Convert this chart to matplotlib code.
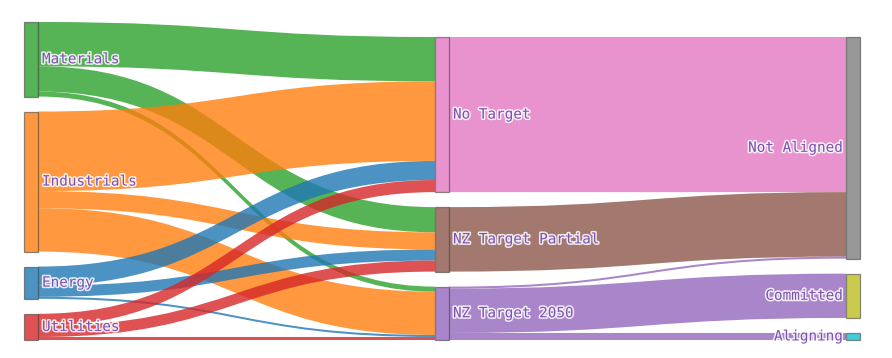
import matplotlib.pyplot as plt
from matplotlib.path import Path
from matplotlib.patches import PathPatch, Rectangle
from matplotlib.colors import to_rgba
import matplotlib.patheffects as pe

# nodes
labels = ['Materials', 'Industrials', 'Energy', 'Utilities',
          'No Target', 'NZ Target Partial', 'NZ Target 2050',
          'Not Aligned', 'Committed', 'Aligning']
columns = [0, 0, 0, 0, 1, 1, 1, 2, 2, 2]
node_colors = ['#2ca02c', '#ff7f0e', '#1f77b4', '#d62728', '#e377c2',
               '#8c564b', '#9467bd', '#7f7f7f', '#bcbd22', '#17becf']

# links
source = [0, 0, 0, 1, 1, 1, 2, 2, 2, 3, 3, 3, 4, 5, 6, 6, 6]
target = [4, 5, 6, 4, 5, 6, 4, 5, 6, 4, 5, 6, 7, 7, 7, 8, 9]
value = [44, 25, 5, 79, 17, 43, 19, 11, 2, 12, 11, 3, 154, 64, 2, 44, 7]

fig = plt.figure(figsize=(8.92, 3.58), dpi=100)
ax = fig.add_axes([0, 0, 1, 1])
ax.set_xlim(0, 892)
ax.set_ylim(358, 0)
ax.axis('off')

col_x = [24, 435, 846]
node_w = 14
pad = 15
y_top, y_bottom = 22, 340

n = len(labels)
inflow = [0] * n
outflow = [0] * n
for s, t, v in zip(source, target, value):
    outflow[s] += v
    inflow[t] += v
node_val = [max(a, b) for a, b in zip(inflow, outflow)]

# scale so the fullest column fills the height
scale = None
for c in range(3):
    idx = [i for i in range(n) if columns[i] == c]
    sc = (y_bottom - y_top - pad * (len(idx) - 1)) / sum(node_val[i] for i in idx)
    scale = sc if scale is None else min(scale, sc)

# stack each column from the bottom
node_y = [0] * n
for c in range(3):
    idx = [i for i in range(n) if columns[i] == c]
    y = y_bottom
    for i in reversed(idx):
        h = node_val[i] * scale
        node_y[i] = y - h
        y = y - h - pad

out_off = list(node_y)
in_off = list(node_y)
for s, t, v in zip(source, target, value):
    w = v * scale
    x0 = col_x[columns[s]] + node_w
    x1 = col_x[columns[t]]
    xm = (x0 + x1) / 2
    s0, s1 = out_off[s], out_off[s] + w
    t0, t1 = in_off[t], in_off[t] + w
    out_off[s] += w
    in_off[t] += w
    verts = [(x0, s0), (xm, s0), (xm, t0), (x1, t0), (x1, t1),
             (xm, t1), (xm, s1), (x0, s1), (x0, s0)]
    codes = [Path.MOVETO, Path.CURVE4, Path.CURVE4, Path.CURVE4, Path.LINETO,
             Path.CURVE4, Path.CURVE4, Path.CURVE4, Path.CLOSEPOLY]
    ax.add_patch(PathPatch(Path(verts, codes), facecolor=to_rgba(node_colors[s], 0.8),
                           edgecolor='none', zorder=1))

for i in range(n):
    h = node_val[i] * scale
    x = col_x[columns[i]]
    ax.add_patch(Rectangle((x, node_y[i]), node_w, h,
                           facecolor=to_rgba(node_colors[i], 0.8),
                           edgecolor=(0.27, 0.27, 0.27, 0.6), lw=0.9, zorder=2))
    yc = node_y[i] + h / 2
    if columns[i] < 2:
        tx, ha = x + node_w + 4, 'left'
    else:
        tx, ha = x - 3, 'right'
    ax.text(tx, yc, labels[i], ha=ha, va='center', fontsize=10.3,
            family=['DejaVu Sans Mono'], color='#7b52b0', zorder=3,
            path_effects=[pe.withStroke(linewidth=2.2, foreground=(1, 1, 1, 0.85))])

fig.savefig('out.png', dpi=100)
